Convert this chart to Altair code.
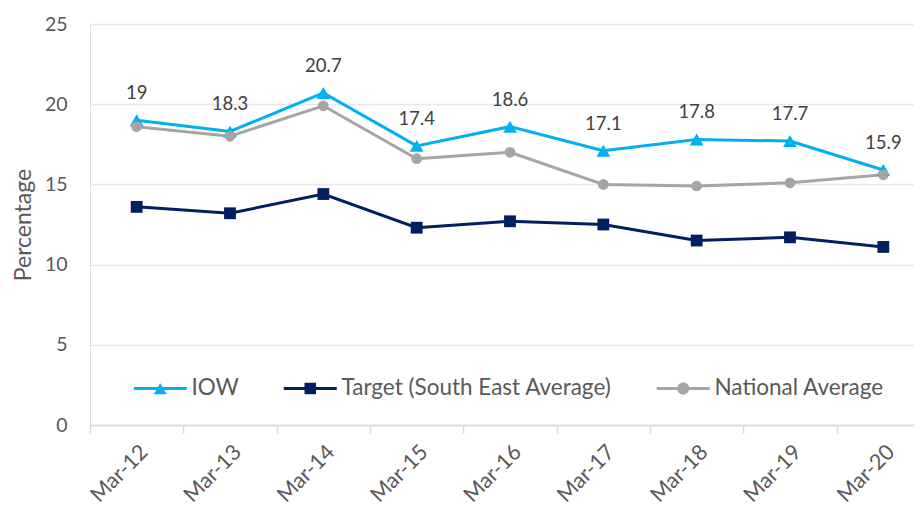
import altair as alt
import pandas as pd

years = ["Mar-12", "Mar-13", "Mar-14", "Mar-15", "Mar-16", "Mar-17", "Mar-18", "Mar-19", "Mar-20"]
iow = [19, 18.3, 20.7, 17.4, 18.6, 17.1, 17.8, 17.7, 15.9]
target = [13.6, 13.2, 14.4, 12.3, 12.7, 12.5, 11.5, 11.7, 11.1]
national = [18.6, 18.0, 19.9, 16.6, 17.0, 15.0, 14.9, 15.1, 15.6]
series = ["IOW", "Target (South East Average)", "National Average"]
colors = ["#00B0F0", "#002060", "#A5A5A5"]
shapes = ["triangle-up", "square", "circle"]
marker_sizes = [190, 140, 115]
y_ticks = [0, 5, 10, 15, 20, 25]

rows = []
for k, (s, vals) in enumerate(zip(series, [iow, target, national])):
    for y, v in zip(years, vals):
        rows.append({"Year": y, "Value": v, "Series": s, "k": k})
df = pd.DataFrame(rows)

FONT = "Lato"
TXT = "#595959"

bar = "M-5.3,-0.3L5.3,-0.3L5.3,0.3L-5.3,0.3Z"
tri = bar + "M0,-1.05L1.3,1.15L-1.3,1.15Z"
sq = bar + "M-1.15,-1.15L1.15,-1.15L1.15,1.15L-1.15,1.15Z"
circ = bar + "M-1.2,0A1.2,1.2 0 1,1 1.2,0A1.2,1.2 0 1,1 -1.2,0Z"
shape_expr = ("datum.value === 'IOW' ? '" + tri + "' : datum.value === 'National Average' ? '"
              + circ + "' : '" + sq + "'")
col_expr = "scale('color', datum.value)"

legend = alt.Legend(
    orient="none", legendX=59, legendY=353, direction="horizontal", columns=3,
    title=None, labelFontSize=22.5, labelColor=TXT, labelFont=FONT, labelLimit=400,
    symbolSize=100, symbolStrokeWidth=0, labelOffset=20, columnPadding=44,
    symbolType={"expr": shape_expr},
    symbolFillColor={"expr": col_expr},
    symbolStrokeColor={"expr": col_expr},
    symbolOpacity=1,
)

color = alt.Color("Series:N", scale=alt.Scale(domain=series, range=colors), legend=legend)

x = alt.X("Year:N", sort=years, bandPosition=0.5,
          scale=alt.Scale(type="band", paddingInner=0, paddingOuter=0, range=[0, 840]),
          axis=alt.Axis(title="Year", labelAngle=-45, labelFontSize=21.5, labelColor=TXT,
                        labelFont=FONT, tickBand="extent", tickColor="#D9D9D9",
                        tickSize=8, tickWidth=1.5, domainColor="#D9D9D9", domainWidth=1.5,
                        labelPadding=8, titleFont=FONT, titleFontSize=23,
                        titleFontWeight="normal", titleColor=TXT, titleY=476,
                        titleX=420, titleBaseline="top", grid=False))
y = alt.Y("Value:Q", scale=alt.Scale(domain=[0, 25], nice=False),
          axis=alt.Axis(title="Percentage", values=y_ticks, labelFontSize=19.5, labelColor=TXT,
                        labelFont=FONT, domain=False, ticks=False, labelPadding=23,
                        titleFont=FONT, titleFontSize=23, titleFontWeight="normal",
                        titleColor=TXT, titlePadding=9, gridColor="#E8E8E8", gridWidth=1.5))

base = alt.Chart(df)
lines = base.mark_line(strokeWidth=3).encode(x=x, y=y, color=color, detail="Series:N")
point_layers = [
    base.transform_filter(alt.datum.Series == s).mark_point(
        filled=True, opacity=1, shape=shp, size=sz).encode(x=x, y=y, color=color)
    for s, shp, sz in zip(series, shapes, marker_sizes)
]
labels = base.transform_filter(alt.datum.Series == "IOW").mark_text(
    dy=-27, fontSize=18.5, color="#404040", font=FONT).encode(
    x=x, y=y, text=alt.Text("Value:Q"))

chart = alt.layer(lines, *point_layers, labels).properties(
    width=824, height=401,
    autosize=alt.AutoSizeParams(type="none"),
    padding={"left": 82, "top": 16, "right": 0, "bottom": 91},
).configure_view(stroke=None).configure(background="white")

chart.save("out.html", embed_options={"renderer": "svg", "actions": False})
